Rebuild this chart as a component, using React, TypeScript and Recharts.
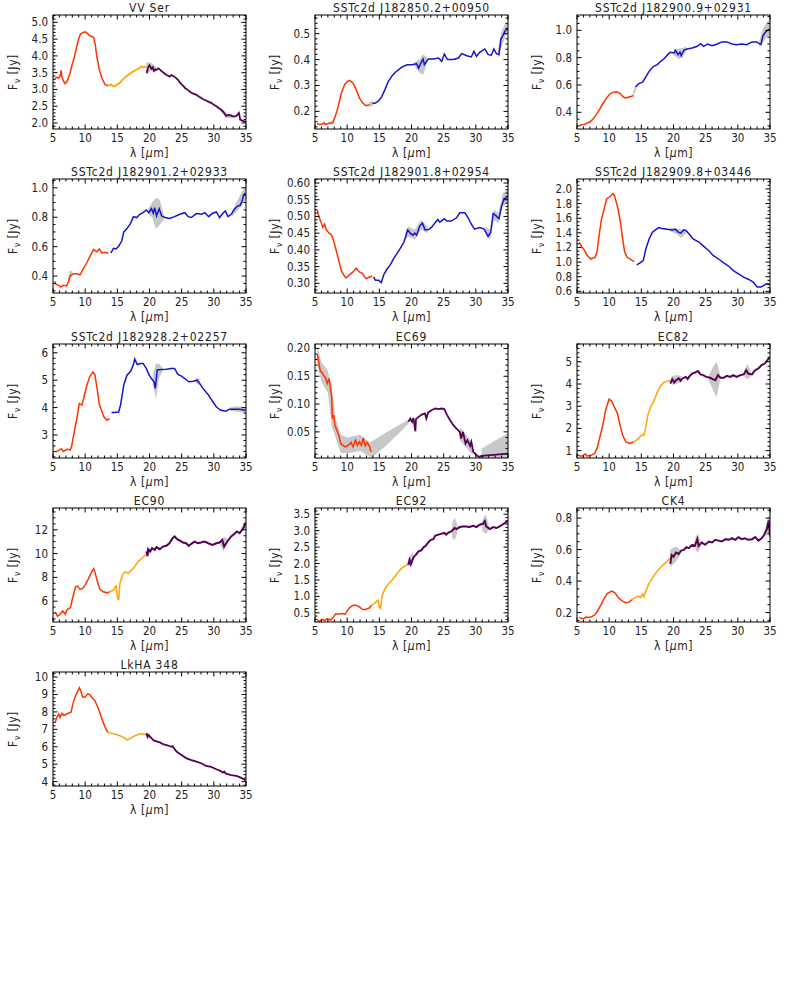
import React from "react";
import { ComposedChart, Line, Area, XAxis, YAxis } from "recharts";

type Pt = [number, number];
type Band = [number, number, number];

const RED = "#ff3300";
const ORANGE = "#ffa500";
const PURPLE = "#560056";
const BLUE = "#1414d2";
const GREY = "#c8c8c8";

const PANEL_W = 262;
const PANEL_H = 164;
const PLOT_L = 53;
const PLOT_T = 15;
const PLOT_W = 193;
const PLOT_H = 114;
const FONT = "'Liberation Sans Narrow', 'DejaVu Sans Condensed', 'Liberation Sans', sans-serif";

const xTickLabels = [5, 10, 15, 20, 25, 30, 35];

// ---- VV Ser
const vvSerSL: Pt[] = [[5.3,3.32],[5.6,3.36],[5.9,3.34],[6.1,3.40],[6.25,3.57],[6.4,3.36],[6.7,3.22],[6.9,3.17],[7.2,3.25],[7.6,3.45],[7.9,3.69],[8.3,3.95],[8.7,4.28],[9.0,4.52],[9.3,4.66],[9.7,4.70],[10.0,4.72],[10.3,4.68],[10.6,4.62],[11.0,4.58],[11.3,4.56],[11.6,4.30],[11.8,3.99],[12.2,3.59],[12.6,3.34],[13.1,3.14],[13.6,3.11]];
const vvSerSH: Pt[] = [[13.6,3.11],[14.0,3.15],[14.3,3.10],[14.6,3.09],[14.9,3.15],[15.2,3.17],[15.5,3.22],[15.9,3.31],[16.2,3.36],[16.5,3.40],[16.7,3.44],[17.0,3.47],[17.3,3.52],[17.5,3.54],[17.9,3.58],[18.2,3.61],[18.5,3.64],[18.8,3.69],[19.1,3.66],[19.5,3.69]];
const vvSerLH: Pt[] = [[19.55,3.49],[19.8,3.66],[20.0,3.72],[20.3,3.62],[20.5,3.66],[20.7,3.55],[20.9,3.60],[21.1,3.58],[21.4,3.63],[21.6,3.60],[21.9,3.54],[22.1,3.51],[22.4,3.47],[22.6,3.44],[22.9,3.41],[23.1,3.38],[23.4,3.43],[23.7,3.40],[24.0,3.36],[24.2,3.33],[24.5,3.27],[24.7,3.21],[25.0,3.15],[25.2,3.11],[25.6,3.03],[26.0,2.98],[26.3,2.93],[26.5,2.90],[26.9,2.87],[27.3,2.84],[27.7,2.78],[28.0,2.75],[28.4,2.70],[28.8,2.67],[29.2,2.63],[29.6,2.60],[30.0,2.54],[30.4,2.50],[30.8,2.44],[31.1,2.40],[31.5,2.33],[31.9,2.21],[32.3,2.24],[32.7,2.22],[33.1,2.19],[33.5,2.21],[33.9,2.30],[34.1,2.10],[34.4,2.07],[34.7,2.05],[35.0,2.02]];
const vvSerBands: Band[][] = [[[19.5,3.42,3.80],[20.2,3.56,3.80],[21.0,3.50,3.68]],[[31.0,2.35,2.45],[32.0,2.15,2.28],[33.0,2.15,2.25]]];

// ---- SSTc2d J182850.2+00950
const j0950SL: Pt[] = [[5.3,0.153],[5.6,0.150],[5.9,0.149],[6.2,0.152],[6.4,0.156],[6.6,0.150],[6.9,0.151],[7.2,0.155],[7.5,0.154],[7.8,0.158],[8.1,0.178],[8.4,0.200],[8.6,0.219],[9.1,0.271],[9.6,0.303],[10.0,0.315],[10.4,0.320],[10.9,0.310],[11.4,0.284],[11.9,0.252],[12.4,0.232],[12.9,0.222],[13.2,0.224],[13.5,0.226]];
const j0950LL: Pt[] = [[13.9,0.230],[14.4,0.232],[14.9,0.241],[15.4,0.258],[15.9,0.286],[16.4,0.316],[17.0,0.338],[17.5,0.351],[18.0,0.361],[18.5,0.371],[19.3,0.380],[20.1,0.380],[20.8,0.384],[21.1,0.367],[21.5,0.389],[21.8,0.402],[22.0,0.380],[22.6,0.402],[23.4,0.402],[24.2,0.406],[24.7,0.393],[25.1,0.421],[25.6,0.400],[26.5,0.400],[27.3,0.406],[27.8,0.423],[28.6,0.415],[29.3,0.410],[29.7,0.432],[30.1,0.412],[30.6,0.428],[31.4,0.441],[31.9,0.420],[32.4,0.416],[32.8,0.441],[33.2,0.423],[33.6,0.419],[33.9,0.479],[34.2,0.492],[34.6,0.513],[35.0,0.518]];
const j0950Bands: Band[][] = [[[13.4,0.218,0.236],[14.0,0.222,0.240]],[[20.5,0.375,0.392],[21.2,0.350,0.400],[21.8,0.340,0.420],[22.4,0.385,0.410]],[[33.4,0.405,0.435],[34.0,0.450,0.510],[34.6,0.490,0.540],[35.0,0.500,0.540]],[[7.4,0.148,0.160],[7.9,0.150,0.168]]];

// ---- SSTc2d J182900.9+02931
const j2931SL: Pt[] = [[5.36,0.302],[5.6,0.308],[5.9,0.310],[6.2,0.312],[6.4,0.317],[6.6,0.322],[6.9,0.327],[7.4,0.346],[7.9,0.376],[8.5,0.420],[9.0,0.463],[9.5,0.498],[10.0,0.529],[10.5,0.546],[11.2,0.551],[11.7,0.537],[12.2,0.512],[12.6,0.505],[13.1,0.512],[13.8,0.522]];
const j2931LL: Pt[] = [[14.1,0.585],[14.6,0.610],[15.2,0.620],[15.7,0.659],[16.2,0.700],[16.9,0.737],[17.5,0.749],[18.0,0.773],[18.5,0.790],[19.1,0.822],[19.5,0.839],[20.1,0.834],[20.3,0.854],[20.7,0.822],[21.0,0.839],[21.2,0.815],[21.6,0.854],[22.1,0.863],[22.9,0.871],[23.7,0.883],[24.2,0.902],[24.7,0.883],[25.3,0.900],[26.0,0.888],[26.8,0.900],[27.5,0.915],[28.3,0.915],[29.1,0.900],[29.8,0.895],[30.6,0.900],[31.4,0.895],[32.2,0.915],[32.9,0.915],[33.6,0.895],[33.9,0.961],[34.4,0.993],[35.0,1.010]];
const j2931Bands: Band[][] = [[[13.6,0.510,0.530],[14.2,0.565,0.610]],[[20.0,0.820,0.860],[20.8,0.790,0.865],[21.4,0.800,0.870],[22.0,0.850,0.880]],[[33.3,0.880,0.920],[33.9,0.910,1.010],[34.5,0.950,1.060],[35.0,0.970,1.080]]];

// ---- SSTc2d J182901.2+02933
const j2933SL: Pt[] = [[5.26,0.364],[5.5,0.342],[5.9,0.337],[6.2,0.326],[6.6,0.337],[7.1,0.333],[7.4,0.360],[7.7,0.404],[8.2,0.416],[8.7,0.416],[9.2,0.409],[9.7,0.449],[10.3,0.494],[10.8,0.539],[11.3,0.580],[11.8,0.566],[12.2,0.584],[12.6,0.557],[13.1,0.562],[13.6,0.555]];
const j2933LL: Pt[] = [[14.0,0.557],[14.4,0.589],[14.8,0.584],[15.2,0.602],[15.7,0.640],[16.0,0.700],[16.4,0.719],[17.0,0.753],[17.5,0.804],[18.0,0.798],[18.5,0.820],[19.0,0.831],[19.5,0.849],[19.9,0.831],[20.3,0.858],[20.6,0.827],[20.8,0.865],[21.1,0.809],[21.5,0.858],[21.9,0.809],[22.4,0.798],[23.1,0.791],[23.9,0.804],[24.7,0.820],[25.5,0.831],[26.0,0.804],[26.5,0.798],[27.3,0.825],[28.1,0.820],[28.6,0.831],[29.2,0.804],[29.8,0.827],[30.4,0.836],[30.9,0.798],[31.4,0.827],[31.8,0.843],[32.2,0.804],[32.7,0.820],[33.2,0.854],[33.7,0.876],[34.1,0.881],[34.4,0.910],[34.6,0.948],[34.9,0.966]];
const j2933Bands: Band[][] = [[[7.3,0.350,0.370],[7.6,0.380,0.440],[8.0,0.400,0.430]],[[19.8,0.820,0.860],[20.4,0.800,0.900],[21.0,0.720,0.930],[21.6,0.750,0.920],[22.2,0.780,0.820]],[[32.8,0.800,0.840],[33.5,0.840,0.900],[34.2,0.870,0.960],[35.0,0.920,1.020]]];

// ---- SSTc2d J182901.8+02954
const j2954SL: Pt[] = [[5.36,0.519],[5.6,0.499],[6.0,0.480],[6.2,0.467],[6.5,0.477],[6.75,0.460],[7.2,0.450],[7.6,0.444],[7.9,0.427],[8.3,0.398],[8.7,0.368],[9.1,0.338],[9.5,0.324],[9.8,0.316],[10.4,0.326],[10.9,0.334],[11.4,0.345],[11.9,0.334],[12.4,0.329],[12.9,0.314],[13.5,0.319],[13.9,0.322]];
const j2954LL: Pt[] = [[14.1,0.319],[14.4,0.309],[14.9,0.309],[15.3,0.302],[15.7,0.326],[16.2,0.343],[16.7,0.355],[17.2,0.373],[17.7,0.388],[18.2,0.403],[18.8,0.422],[19.1,0.440],[19.4,0.460],[19.8,0.450],[20.2,0.444],[20.5,0.450],[20.8,0.444],[21.3,0.472],[21.7,0.480],[22.1,0.460],[22.6,0.460],[23.1,0.467],[23.7,0.482],[24.1,0.491],[24.4,0.483],[25.1,0.493],[25.5,0.486],[26.2,0.486],[27.0,0.496],[27.5,0.511],[28.3,0.511],[28.8,0.496],[29.3,0.477],[29.8,0.462],[30.6,0.467],[31.3,0.462],[31.9,0.440],[32.3,0.452],[32.7,0.509],[33.2,0.501],[33.6,0.493],[34.0,0.531],[34.4,0.553],[34.9,0.556]];
const j2954Bands: Band[][] = [[[19.0,0.430,0.450],[19.5,0.440,0.470],[20.5,0.430,0.460],[21.5,0.460,0.490],[22.5,0.450,0.470]],[[31.5,0.450,0.470],[32.2,0.430,0.460],[32.8,0.490,0.520],[33.5,0.480,0.510],[34.2,0.530,0.570],[35.0,0.540,0.580]]];

// ---- SSTc2d J182909.8+03446
const j3446SL: Pt[] = [[5.36,1.268],[5.7,1.214],[6.1,1.170],[6.6,1.088],[7.1,1.042],[7.4,1.050],[7.8,1.065],[8.1,1.133],[8.5,1.404],[8.8,1.585],[9.2,1.720],[9.6,1.864],[10.2,1.900],[10.6,1.937],[10.9,1.890],[11.4,1.720],[11.8,1.517],[12.1,1.313],[12.4,1.142],[12.8,1.065],[13.4,1.033],[13.9,1.006]];
const j3446LL: Pt[] = [[14.3,0.961],[14.8,0.988],[15.3,1.020],[15.7,1.178],[16.2,1.313],[16.7,1.404],[17.2,1.440],[17.7,1.472],[18.2,1.458],[19.0,1.449],[19.8,1.440],[20.3,1.449],[20.7,1.413],[21.1,1.395],[21.6,1.440],[22.0,1.426],[22.6,1.368],[23.1,1.313],[23.9,1.277],[24.7,1.214],[25.5,1.155],[26.2,1.088],[27.0,1.042],[27.8,0.988],[28.6,0.943],[29.3,0.884],[30.1,0.839],[30.9,0.794],[31.7,0.762],[32.4,0.726],[33.0,0.659],[33.6,0.659],[34.1,0.681],[34.5,0.704],[34.9,0.690]];
const j3446Bands: Band[][] = [[[19.5,1.420,1.470],[20.5,1.380,1.460],[21.2,1.330,1.450],[22.0,1.400,1.450]],[[7.0,1.020,1.060],[7.4,1.030,1.070]]];

// ---- SSTc2d J182928.2+02257
const j2257SL: Pt[] = [[5.36,2.38],[5.9,2.44],[6.3,2.50],[6.6,2.40],[7.2,2.48],[7.7,2.46],[7.9,2.60],[8.3,3.11],[8.7,3.60],[9.1,4.15],[9.5,4.09],[9.7,4.27],[10.2,4.76],[10.7,5.12],[11.2,5.30],[11.5,5.21],[11.9,4.63],[12.2,4.11],[12.6,3.87],[12.9,3.66],[13.4,3.54],[13.8,3.60]];
const j2257LL: Pt[] = [[14.1,3.82],[14.6,3.82],[15.2,3.84],[15.5,4.09],[16.0,4.82],[16.5,5.18],[17.1,5.33],[17.5,5.57],[17.7,5.77],[18.1,5.57],[18.6,5.61],[19.0,5.61],[19.5,5.43],[19.9,5.21],[20.3,5.06],[20.7,4.94],[20.9,4.70],[21.2,5.37],[21.9,5.39],[22.6,5.40],[23.4,5.43],[23.9,5.43],[24.4,5.21],[24.9,5.16],[25.5,5.06],[26.1,4.94],[26.8,4.96],[27.4,5.00],[27.8,4.88],[28.3,4.70],[29.1,4.48],[29.8,4.23],[30.4,4.02],[31.1,3.90],[31.9,3.87],[32.4,3.94],[33.2,3.94],[34.0,3.94],[34.9,3.90]];
const j2257Bands: Band[][] = [[[20.5,4.90,5.20],[21.0,4.30,5.60],[21.5,5.10,5.60],[22.0,5.30,5.45]],[[27.2,4.90,5.10],[27.8,4.80,5.05]],[[32.5,3.88,4.00],[33.5,3.85,4.05],[35.0,3.82,4.02]]];

// ---- EC69
const ec69SL: Pt[] = [[5.36,0.189],[5.5,0.182],[5.7,0.167],[5.85,0.159],[6.1,0.157],[6.3,0.152],[6.65,0.147],[6.9,0.137],[7.2,0.146],[7.4,0.128],[7.6,0.113],[7.7,0.074],[7.9,0.080],[8.1,0.062],[8.4,0.053],[8.7,0.044],[9.0,0.029],[9.3,0.026],[9.7,0.023],[10.2,0.026],[10.6,0.031],[10.9,0.023],[11.3,0.035],[11.6,0.026],[11.9,0.032],[12.2,0.026],[12.5,0.039],[12.8,0.025],[13.1,0.031],[13.5,0.023],[13.7,0.014]];
const ec69LH: Pt[] = [[19.5,0.068],[19.8,0.074],[20.1,0.068],[20.3,0.075],[20.6,0.051],[20.7,0.073],[21.1,0.077],[21.6,0.081],[22.1,0.083],[22.3,0.074],[22.6,0.085],[23.1,0.089],[23.7,0.092],[24.2,0.091],[24.7,0.092],[25.1,0.091],[25.5,0.081],[26.0,0.071],[26.5,0.062],[27.0,0.056],[27.5,0.050],[27.7,0.038],[28.0,0.050],[28.4,0.029],[28.7,0.035],[29.1,0.025],[29.3,0.032],[29.6,0.014],[29.9,0.011],[30.2,0.007],[30.6,0.005],[30.9,0.007],[35.0,0.011]];
const ec69Bands: Band[][] = [[[5.36,0.170,0.205],[6.0,0.140,0.175],[7.0,0.120,0.160],[7.6,0.060,0.130],[8.2,0.040,0.075],[9.0,0.012,0.045],[10.0,0.012,0.040],[12.0,0.015,0.045],[13.7,0.005,0.030]],[[13.7,0.002,0.032],[16.5,0.030,0.052],[19.5,0.064,0.072]],[[27.5,0.035,0.058],[28.5,0.022,0.045],[29.5,0.008,0.030]],[[30.9,0.002,0.020],[35.0,0.003,0.048]]];

// ---- EC82
const ec82SL: Pt[] = [[5.36,0.76],[5.8,0.76],[6.3,0.86],[6.5,0.76],[7.2,0.79],[7.7,0.86],[8.1,1.09],[8.5,1.54],[9.0,2.14],[9.5,2.89],[10.0,3.32],[10.4,3.23],[10.8,2.97],[11.3,2.67],[11.7,2.14],[12.1,1.69],[12.6,1.39],[13.2,1.32],[13.8,1.39]];
const ec82SH: Pt[] = [[13.8,1.39],[14.4,1.51],[14.9,1.66],[15.2,1.72],[15.4,1.69],[15.7,2.07],[16.0,2.59],[16.4,2.92],[17.0,3.27],[17.5,3.65],[18.0,3.92],[18.5,4.07],[19.0,4.13],[19.5,4.17]];
const ec82LH: Pt[] = [[19.5,4.02],[19.8,4.22],[20.1,4.07],[20.4,4.17],[20.8,4.25],[21.1,4.15],[21.4,4.25],[21.9,4.32],[22.2,4.22],[22.4,4.32],[22.9,4.47],[23.4,4.52],[23.8,4.58],[24.2,4.43],[24.6,4.40],[25.1,4.32],[25.7,4.28],[26.1,4.22],[26.5,4.17],[26.9,4.40],[27.3,4.28],[27.8,4.28],[28.3,4.37],[28.8,4.32],[29.3,4.40],[29.8,4.32],[30.4,4.40],[30.9,4.43],[31.3,4.62],[31.6,4.47],[32.2,4.43],[32.7,4.62],[33.2,4.70],[33.7,4.85],[34.2,4.92],[34.6,5.08],[34.9,5.18]];
const ec82Bands: Band[][] = [[[19.7,3.95,4.35],[20.5,4.00,4.40],[21.3,4.10,4.35]],[[25.5,4.15,4.40],[26.2,3.70,4.80],[26.7,3.40,5.00],[27.2,4.10,4.50]],[[31.0,4.35,4.60],[31.5,4.20,4.90],[32.0,4.35,4.55]]];

// ---- EC90
const ec90SL: Pt[] = [[5.36,5.10],[5.7,4.73],[6.1,4.90],[6.5,5.18],[6.9,4.90],[7.2,5.30],[7.7,5.46],[8.1,6.37],[8.5,7.21],[8.8,7.27],[9.2,6.99],[9.6,7.07],[10.0,7.35],[10.4,7.77],[10.9,8.34],[11.3,8.73],[11.5,8.48],[11.9,7.63],[12.3,6.99],[12.8,6.79],[13.4,6.70],[13.8,6.79]];
const ec90SH: Pt[] = [[13.8,6.79],[14.4,6.93],[14.6,7.15],[14.8,7.27],[15.0,6.37],[15.2,6.08],[15.4,7.49],[15.8,8.20],[16.2,8.48],[16.7,8.34],[17.2,8.62],[17.7,8.90],[18.2,9.32],[18.8,9.61],[19.4,9.89]];
const ec90LH: Pt[] = [[19.5,10.17],[19.7,9.80],[19.8,10.37],[20.1,10.17],[20.4,10.45],[20.8,10.31],[21.1,10.54],[21.6,10.37],[22.1,10.59],[22.6,10.65],[23.1,10.87],[23.6,11.30],[23.9,11.44],[24.3,11.21],[24.7,11.10],[25.2,10.93],[25.7,10.87],[26.1,10.65],[26.5,10.82],[27.0,11.01],[27.5,10.87],[28.0,10.93],[28.5,11.01],[28.9,10.93],[29.3,10.82],[29.8,10.73],[30.4,10.87],[30.9,10.93],[31.3,11.15],[31.6,10.59],[32.2,11.10],[32.7,11.44],[33.2,11.66],[33.6,11.86],[34.0,11.72],[34.4,12.00],[34.7,12.28],[34.9,12.56]];
const ec90Bands: Band[][] = [[[19.5,9.60,10.40],[20.0,10.00,10.50]],[[31.0,10.70,11.10],[31.5,10.20,11.40],[32.0,10.80,11.30]],[[34.5,11.90,12.40],[35.0,12.10,12.90]]];

// ---- EC92
const ec92SL: Pt[] = [[5.36,0.28],[5.7,0.24],[6.1,0.30],[6.5,0.26],[6.9,0.32],[7.4,0.28],[7.8,0.36],[8.2,0.46],[8.7,0.46],[9.2,0.48],[9.7,0.46],[10.0,0.56],[10.4,0.66],[10.9,0.73],[11.4,0.73],[11.9,0.68],[12.4,0.60],[12.9,0.60],[13.5,0.66],[13.8,0.73]];
const ec92SH: Pt[] = [[13.8,0.73],[14.4,0.81],[14.8,0.89],[15.0,0.68],[15.2,0.63],[15.4,1.01],[15.9,1.24],[16.4,1.38],[17.0,1.50],[17.5,1.62],[18.0,1.76],[18.5,1.86],[19.3,1.96],[19.5,2.00]];
const ec92LH: Pt[] = [[19.5,1.96],[19.7,2.11],[19.9,1.98],[20.1,2.09],[20.4,2.21],[20.7,2.27],[21.1,2.37],[21.5,2.40],[21.9,2.50],[22.2,2.54],[22.6,2.64],[23.0,2.72],[23.4,2.74],[23.7,2.85],[24.2,2.88],[24.7,2.91],[25.1,2.93],[25.4,2.88],[25.8,2.95],[26.2,2.98],[26.7,3.08],[27.0,3.05],[27.5,3.11],[28.0,3.13],[28.5,3.13],[29.0,3.11],[29.6,3.15],[30.1,3.11],[30.6,3.18],[31.1,3.21],[31.4,3.29],[31.6,3.13],[32.2,3.05],[32.7,3.11],[33.2,3.08],[33.7,3.13],[34.1,3.18],[34.5,3.23],[34.9,3.29]];
const ec92Bands: Band[][] = [[[19.5,1.90,2.15],[20.2,2.00,2.35]],[[26.3,2.80,3.20],[26.7,2.70,3.40],[27.1,2.90,3.20]],[[31.0,3.00,3.30],[31.5,2.90,3.50],[32.0,3.00,3.20]]];

// ---- CK4
const ck4SL: Pt[] = [[5.36,0.168],[5.8,0.162],[6.1,0.162],[6.4,0.172],[6.6,0.168],[7.2,0.172],[7.7,0.183],[8.2,0.210],[8.7,0.247],[9.2,0.289],[9.7,0.321],[10.4,0.336],[10.9,0.326],[11.4,0.296],[12.0,0.274],[12.6,0.262],[13.1,0.266],[13.6,0.283]];
const ck4SH: Pt[] = [[13.6,0.283],[14.1,0.296],[14.5,0.304],[14.9,0.296],[15.2,0.317],[15.4,0.300],[15.7,0.338],[16.2,0.385],[16.7,0.417],[17.2,0.449],[17.7,0.474],[18.2,0.496],[18.8,0.517],[19.4,0.545]];
const ck4LH: Pt[] = [[19.5,0.509],[19.7,0.566],[20.0,0.555],[20.4,0.581],[20.8,0.572],[21.2,0.594],[21.6,0.598],[22.0,0.615],[22.4,0.609],[22.9,0.630],[23.3,0.623],[23.7,0.666],[23.9,0.623],[24.4,0.645],[24.9,0.630],[25.5,0.651],[26.0,0.645],[26.5,0.662],[27.0,0.657],[27.5,0.651],[28.1,0.666],[28.6,0.662],[29.1,0.672],[29.6,0.662],[30.1,0.679],[30.6,0.666],[31.1,0.672],[31.6,0.662],[32.2,0.666],[32.7,0.679],[33.2,0.657],[33.7,0.672],[34.1,0.694],[34.5,0.730],[34.8,0.785],[35.0,0.683]];
const ck4Bands: Band[][] = [[[19.5,0.490,0.600],[20.3,0.520,0.620],[21.0,0.560,0.600]],[[23.4,0.600,0.680],[23.8,0.580,0.700],[24.2,0.620,0.660]],[[34.3,0.680,0.740],[34.8,0.700,0.820],[35.0,0.660,0.800]]];

// ---- LkHA 348
const lkhaSL: Pt[] = [[5.36,7.40],[5.6,7.69],[5.9,7.88],[6.1,7.69],[6.4,7.92],[6.7,7.79],[7.1,7.88],[7.4,7.92],[7.8,7.98],[8.1,8.46],[8.5,8.94],[8.8,9.13],[9.1,9.38],[9.3,9.23],[9.6,8.85],[10.0,8.85],[10.4,9.04],[10.7,9.00],[11.0,8.85],[11.5,8.65],[12.1,8.17],[12.6,7.60],[13.1,7.12],[13.5,6.83]];
const lkhaSH: Pt[] = [[13.5,6.83],[14.1,6.77],[14.6,6.73],[15.4,6.63],[16.0,6.54],[16.5,6.38],[17.1,6.50],[17.7,6.63],[18.4,6.73],[19.0,6.73],[19.4,6.69]];
const lkhaLH: Pt[] = [[19.5,6.77],[19.7,6.58],[19.8,6.68],[20.2,6.54],[20.6,6.38],[21.1,6.31],[21.6,6.25],[22.1,6.15],[22.9,6.06],[23.4,6.00],[23.6,6.04],[23.8,5.92],[24.2,5.73],[24.9,5.54],[25.7,5.35],[26.5,5.23],[27.3,5.15],[28.1,5.04],[28.8,4.90],[29.6,4.85],[30.4,4.71],[31.0,4.62],[31.4,4.52],[31.6,4.58],[31.9,4.46],[32.7,4.38],[33.5,4.33],[34.2,4.23],[34.9,4.08]];
const lkhaBands: Band[][] = [[[19.5,6.55,6.85],[20.2,6.45,6.65]]];

interface Seg { data: Pt[]; color: string; width?: number; }
interface PanelDef {
  title: string;
  yDomain: [number, number];
  yTicks: number[];
  yMinor: number;
  dec: number;
  segs: Seg[];
  bands: Band[][];
}

const panels: PanelDef[] = [
  { title: "VV Ser", yDomain: [1.82, 5.22], yTicks: [2.0, 2.5, 3.0, 3.5, 4.0, 4.5, 5.0], yMinor: 0.1, dec: 1,
    segs: [{ data: vvSerSL, color: RED }, { data: vvSerSH, color: ORANGE, width: 1.8 }, { data: vvSerLH, color: PURPLE, width: 1.8 }], bands: vvSerBands },
  { title: "SSTc2d J182850.2+00950", yDomain: [0.132, 0.572], yTicks: [0.2, 0.3, 0.4, 0.5], yMinor: 0.02, dec: 1,
    segs: [{ data: j0950SL, color: RED }, { data: j0950LL, color: BLUE }], bands: j0950Bands },
  { title: "SSTc2d J182900.9+02931", yDomain: [0.278, 1.112], yTicks: [0.4, 0.6, 0.8, 1.0], yMinor: 0.05, dec: 1,
    segs: [{ data: j2931SL, color: RED }, { data: j2931LL, color: BLUE }], bands: j2931Bands },
  { title: "SSTc2d J182901.2+02933", yDomain: [0.285, 1.06], yTicks: [0.4, 0.6, 0.8, 1.0], yMinor: 0.05, dec: 1,
    segs: [{ data: j2933SL, color: RED }, { data: j2933LL, color: BLUE }], bands: j2933Bands },
  { title: "SSTc2d J182901.8+02954", yDomain: [0.271, 0.612], yTicks: [0.30, 0.35, 0.40, 0.45, 0.50, 0.55, 0.60], yMinor: 0.01, dec: 2,
    segs: [{ data: j2954SL, color: RED }, { data: j2954LL, color: BLUE }], bands: j2954Bands },
  { title: "SSTc2d J182909.8+03446", yDomain: [0.577, 2.136], yTicks: [0.6, 0.8, 1.0, 1.2, 1.4, 1.6, 1.8, 2.0], yMinor: 0.05, dec: 1,
    segs: [{ data: j3446SL, color: RED }, { data: j3446LL, color: BLUE }], bands: j3446Bands },
  { title: "SSTc2d J182928.2+02257", yDomain: [2.16, 6.32], yTicks: [3, 4, 5, 6], yMinor: 0.2, dec: 0,
    segs: [{ data: j2257SL, color: RED }, { data: j2257LL, color: BLUE }], bands: j2257Bands },
  { title: "EC69", yDomain: [0.003, 0.208], yTicks: [0.05, 0.10, 0.15, 0.20], yMinor: 0.01, dec: 2,
    segs: [{ data: ec69SL, color: RED }, { data: ec69LH, color: PURPLE, width: 1.8 }], bands: ec69Bands },
  { title: "EC82", yDomain: [0.67, 5.8], yTicks: [1, 2, 3, 4, 5], yMinor: 0.2, dec: 0,
    segs: [{ data: ec82SL, color: RED }, { data: ec82SH, color: ORANGE }, { data: ec82LH, color: PURPLE, width: 2 }], bands: ec82Bands },
  { title: "EC90", yDomain: [4.25, 13.83], yTicks: [6, 8, 10, 12], yMinor: 0.5, dec: 0,
    segs: [{ data: ec90SL, color: RED }, { data: ec90SH, color: ORANGE }, { data: ec90LH, color: PURPLE, width: 2 }], bands: ec90Bands },
  { title: "EC92", yDomain: [0.22, 3.69], yTicks: [0.5, 1.0, 1.5, 2.0, 2.5, 3.0, 3.5], yMinor: 0.1, dec: 1,
    segs: [{ data: ec92SL, color: RED }, { data: ec92SH, color: ORANGE }, { data: ec92LH, color: PURPLE, width: 2 }], bands: ec92Bands },
  { title: "CK4", yDomain: [0.14, 0.864], yTicks: [0.2, 0.4, 0.6, 0.8], yMinor: 0.05, dec: 1,
    segs: [{ data: ck4SL, color: RED }, { data: ck4SH, color: ORANGE }, { data: ck4LH, color: PURPLE, width: 2 }], bands: ck4Bands },
  { title: "LkHA 348", yDomain: [3.75, 10.29], yTicks: [4, 5, 6, 7, 8, 9, 10], yMinor: 0.2, dec: 0,
    segs: [{ data: lkhaSL, color: RED }, { data: lkhaSH, color: ORANGE }, { data: lkhaLH, color: PURPLE, width: 1.8 }], bands: lkhaBands },
];

const xAllTicks: number[] = [];
for (let v = xTickLabels[0]; v <= xTickLabels[xTickLabels.length - 1]; v += 1) xAllTicks.push(v);

const textStyle = { fontFamily: FONT, fontSize: 11.5, fill: "#222" };

function SpecPanel({ p, left, top }: { p: PanelDef; left: number; top: number }) {
  const minor: number[] = [];
  const start = Math.ceil(p.yDomain[0] / p.yMinor - 1e-9);
  for (let k = start; k * p.yMinor <= p.yDomain[1] + 1e-9; k++) minor.push(+(k * p.yMinor).toFixed(4));
  const yAll = Array.from(new Set([...minor, ...p.yTicks])).sort((a, b) => a - b);
  const isMajorY = (v: number) => p.yTicks.some((t) => Math.abs(t - v) < 1e-6);

  const renderXTick = (props: any) => {
    const { x, y, payload } = props;
    const v = payload.value as number;
    const major = xTickLabels.includes(v);
    const len = major ? 4.5 : 2.5;
    return (
      <g>
        <line x1={x} y1={y} x2={x} y2={y - len} stroke="#000" strokeWidth={1} />
        <line x1={x} y1={y - PLOT_H} x2={x} y2={y - PLOT_H + len} stroke="#000" strokeWidth={1} />
        {major && (
          <text x={x} y={y + 13} textAnchor="middle" style={textStyle}>
            {v}
          </text>
        )}
      </g>
    );
  };

  const renderYTick = (props: any) => {
    const { x, y, payload } = props;
    const v = payload.value as number;
    const major = isMajorY(v);
    const len = major ? 4.5 : 2.5;
    return (
      <g>
        <line x1={x} y1={y} x2={x + len} y2={y} stroke="#000" strokeWidth={1} />
        <line x1={x + PLOT_W} y1={y} x2={x + PLOT_W - len} y2={y} stroke="#000" strokeWidth={1} />
        {major && (
          <text x={x - 5} y={y + 4} textAnchor="end" style={textStyle}>
            {v.toFixed(p.dec)}
          </text>
        )}
      </g>
    );
  };

  const cx = PLOT_L + PLOT_W / 2;
  const cy = PLOT_T + PLOT_H / 2;

  return (
    <div style={{ position: "absolute", left, top, width: PANEL_W, height: PANEL_H }}>
      <ComposedChart width={PANEL_W} height={PANEL_H} margin={{ top: PLOT_T, right: PANEL_W - PLOT_L - PLOT_W, bottom: 0, left: 0 }}>
        <XAxis xAxisId="b" dataKey="x" type="number" domain={[5, 35]} allowDataOverflow ticks={xAllTicks} interval={0}
          tick={renderXTick} tickLine={false} axisLine={false} tickSize={0} tickMargin={0} height={PANEL_H - PLOT_T - PLOT_H} />
        <YAxis yAxisId="l" type="number" domain={p.yDomain} allowDataOverflow ticks={yAll} interval={0}
          tick={renderYTick} tickLine={false} axisLine={false} tickSize={0} tickMargin={0} width={PLOT_L} />
        {p.bands.map((b, i) => (
          <Area key={"b" + i} xAxisId="b" yAxisId="l" type="linear" data={b.map(([x, lo, hi]) => ({ x, r: [lo, hi] }))}
            dataKey="r" stroke="none" fill={GREY} fillOpacity={1} isAnimationActive={false} />
        ))}
        {p.segs.map((s, i) => (
          <Line key={"s" + i} xAxisId="b" yAxisId="l" type="linear" data={s.data.map(([x, y]) => ({ x, y }))}
            dataKey="y" stroke={s.color} strokeWidth={s.width ?? 1.5} dot={false} activeDot={false} isAnimationActive={false} />
        ))}
      </ComposedChart>
      <svg width={PANEL_W} height={PANEL_H} style={{ position: "absolute", left: 0, top: 0, pointerEvents: "none" }}>
        <rect x={PLOT_L} y={PLOT_T} width={PLOT_W} height={PLOT_H} fill="none" stroke="#000" strokeWidth={1} />
        <text x={cx} y={11.5} textAnchor="middle" style={{ ...textStyle, fontSize: 12, letterSpacing: 0.8 }}>
          {p.title}
        </text>
        <text x={cx} y={157} textAnchor="middle" style={{ ...textStyle, fontSize: 12, letterSpacing: 0.6 }}>
          λ [<tspan fontStyle="italic">μ</tspan>m]
        </text>
        <text transform={`translate(17,${cy}) rotate(-90)`} textAnchor="middle" style={{ ...textStyle, fontSize: 12, letterSpacing: 0.6 }}>
          F<tspan dy={3} fontSize={8}>ν</tspan>
          <tspan dy={-3}> [Jy]</tspan>
        </text>
      </svg>
    </div>
  );
}

export default function App() {
  return (
    <div style={{ position: "absolute", left: 0, top: 0, width: 786, height: 984, background: "#fff" }}>
      {panels.map((p, i) => {
        const col = i % 3;
        const row = Math.floor(i / 3);
        return <SpecPanel key={p.title} p={p} left={col * PANEL_W} top={Math.round(row * 164.25)} />;
      })}
    </div>
  );
}
